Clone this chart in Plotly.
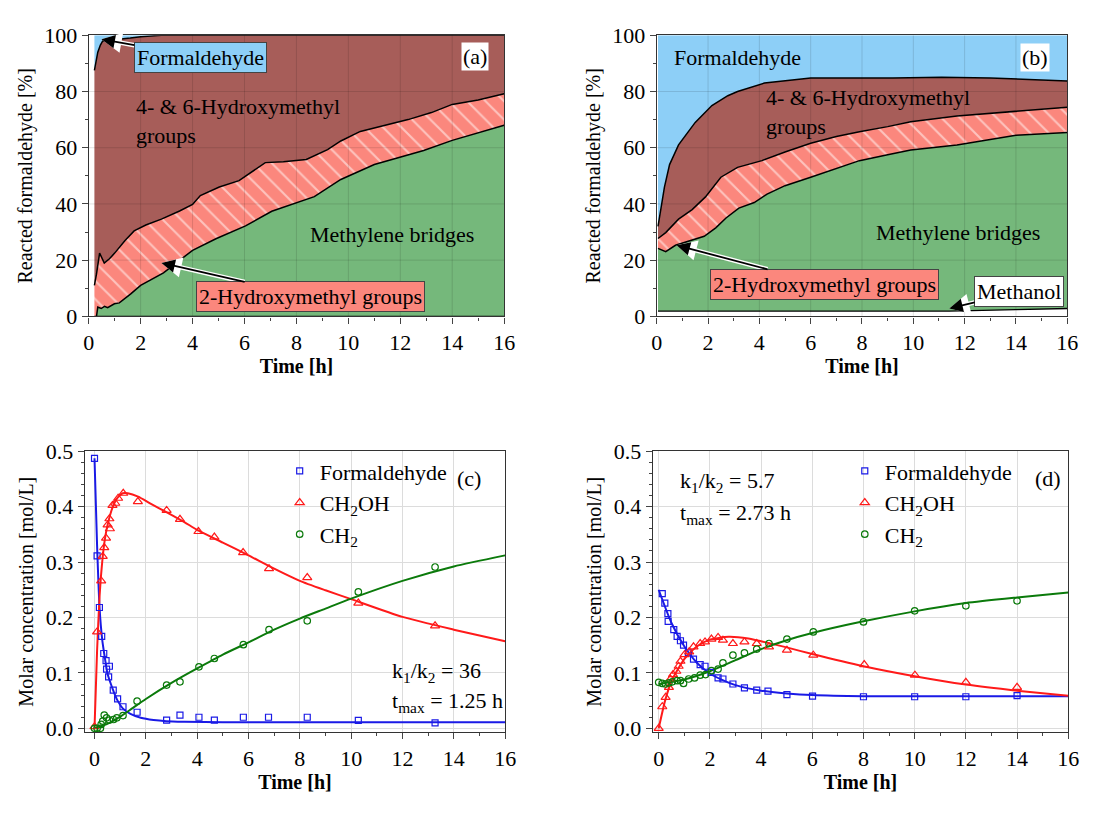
import plotly.graph_objects as go

# ---------------- Panel (a) data: cumulative boundaries [%] ----------------
a_green_t = [0.22, 0.3, 0.35, 0.48, 0.61, 0.73, 0.99, 1.18, 1.62, 2.0, 2.88, 4.0, 4.9, 6.04, 7.05, 7.94, 8.69, 9.71, 11.0, 12.9, 14.0, 16.0]
a_green_v = [0.0, 0.0, 3.3, 2.8, 3.6, 3.1, 4.5, 4.8, 8.0, 11.0, 15.5, 23.5, 27.6, 32.2, 37.4, 40.2, 42.6, 48.7, 54.0, 59.0, 62.6, 68.0]
a_pink_t = [0.22, 0.3, 0.42, 0.5, 0.6, 0.8, 1.0, 1.4, 1.75, 2.2, 2.8, 3.5, 4.0, 4.3, 5.03, 5.79, 6.8, 7.5, 8.38, 9.2, 9.71, 10.46, 11.5, 12.3, 13.2, 14.0, 15.0, 16.0]
a_pink_v = [11.0, 15.0, 22.5, 21.0, 19.0, 20.5, 22.5, 27.0, 30.4, 32.5, 34.6, 37.5, 39.8, 43.0, 46.0, 48.3, 54.7, 55.0, 55.8, 59.3, 62.4, 65.8, 68.3, 70.0, 72.5, 75.4, 77.0, 79.2]
a_brown_t = [0.22, 0.28, 0.35, 0.45, 0.54, 0.8, 1.25, 1.6, 2.0, 2.8, 16.0]
a_brown_v = [87.5, 91.0, 94.0, 96.5, 98.0, 98.2, 98.8, 99.0, 99.5, 100.0, 100.0]

# ---------------- Panel (b) data ----------------
b_meth_t = [0.05, 6.0, 11.4, 14.0, 16.0]
b_meth_v = [1.9, 1.9, 1.9, 2.4, 2.8]
b_green_t = [0.05, 0.35, 0.73, 1.1, 1.5, 1.85, 2.3, 2.7, 3.2, 3.8, 4.3, 5.0, 6.0, 7.0, 7.9, 9.0, 9.9, 11.7, 14.0, 16.0]
b_green_v = [24.2, 23.0, 25.3, 26.3, 27.5, 28.5, 31.5, 35.0, 38.5, 40.5, 43.5, 46.5, 49.5, 52.5, 55.4, 57.5, 59.2, 61.0, 64.4, 65.4]
b_pink_t = [0.05, 0.35, 0.85, 1.38, 1.9, 2.5, 3.15, 4.1, 5.0, 6.0, 7.0, 7.9, 9.0, 9.9, 11.7, 14.0, 16.0]
b_pink_v = [27.7, 29.8, 34.6, 38.0, 42.5, 49.5, 53.0, 55.4, 58.5, 61.6, 64.0, 65.7, 67.5, 69.2, 71.3, 73.0, 74.4]
b_brown_t = [0.05, 0.15, 0.3, 0.5, 0.85, 1.5, 2.15, 2.77, 3.15, 4.2, 6.0, 8.0, 9.2, 11.1, 13.0, 16.0]
b_brown_v = [32.0, 38.0, 46.0, 54.0, 61.0, 69.0, 75.0, 78.5, 80.0, 83.0, 84.8, 84.8, 84.8, 85.1, 84.8, 83.7]

# ---------------- Panel (c) data [mol/L] ----------------
c_form_t = [0, 0.1, 0.19, 0.28, 0.36, 0.45, 0.47, 0.55, 0.58, 0.73, 0.9, 1.11, 1.66, 2.81, 3.33, 4.07, 4.67, 5.8, 6.78, 8.29, 10.28, 13.27]
c_form_v = [0.487, 0.311, 0.218, 0.166, 0.135, 0.122, 0.107, 0.093, 0.112, 0.069, 0.053, 0.039, 0.029, 0.015, 0.024, 0.020, 0.015, 0.020, 0.020, 0.020, 0.0145, 0.010]
c_ch2oh_t = [0, 0.1, 0.26, 0.32, 0.38, 0.45, 0.51, 0.58, 0.6, 0.70, 0.81, 0.92, 1.12, 1.69, 2.81, 3.33, 4.05, 4.67, 5.79, 6.8, 8.29, 10.28, 13.27]
c_ch2oh_v = [0.003, 0.174, 0.266, 0.310, 0.326, 0.343, 0.367, 0.378, 0.360, 0.402, 0.406, 0.415, 0.424, 0.409, 0.393, 0.377, 0.355, 0.345, 0.317, 0.288, 0.272, 0.226, 0.185]
c_ch2_t = [0, 0.1, 0.23, 0.26, 0.32, 0.38, 0.47, 0.58, 0.74, 0.87, 1.11, 1.66, 2.81, 3.33, 4.07, 4.67, 5.8, 6.8, 8.29, 10.28, 13.27]
c_ch2_v = [0.0, 0.0, 0.0, 0.007, 0.013, 0.024, 0.019, 0.015, 0.016, 0.019, 0.023, 0.049, 0.078, 0.084, 0.111, 0.126, 0.151, 0.178, 0.194, 0.246, 0.291]
c_fit_form_t = [0, 0.1, 0.2, 0.3, 0.4, 0.5, 0.6, 0.75, 0.9, 1.1, 1.4, 1.8, 2.3, 2.8, 3.5, 5, 8, 16]
c_fit_form_v = [0.487, 0.33, 0.215, 0.16, 0.128, 0.10, 0.085, 0.066, 0.050, 0.036, 0.026, 0.019, 0.015, 0.013, 0.012, 0.011, 0.011, 0.011]
c_fit_ch2oh_t = [0, 0.1, 0.2, 0.3, 0.4, 0.5, 0.7, 0.9, 1.1, 1.3, 1.7, 2.2, 2.8, 3.5, 4.0, 5.0, 6.0, 7.0, 8.0, 9.0, 10.0, 12.0, 14.0, 16.0]
c_fit_ch2oh_v = [0, 0.14, 0.24, 0.30, 0.34, 0.365, 0.398, 0.416, 0.424, 0.424, 0.418, 0.405, 0.390, 0.372, 0.358, 0.335, 0.312, 0.288, 0.266, 0.249, 0.233, 0.201, 0.178, 0.157]
c_fit_ch2_t = [0, 0.5, 1, 1.5, 2, 3, 4, 5, 6, 7, 8, 9, 10, 12, 14, 16]
c_fit_ch2_v = [0, 0.008, 0.021, 0.037, 0.053, 0.082, 0.108, 0.133, 0.155, 0.178, 0.198, 0.216, 0.234, 0.266, 0.292, 0.312]

# ---------------- Panel (d) data [mol/L] ----------------
d_form_t = [0.14, 0.24, 0.36, 0.37, 0.59, 0.72, 0.85, 0.97, 1.16, 1.36, 1.62, 1.81, 2.04, 2.32, 2.51, 2.9, 3.35, 3.83, 4.27, 5.01, 6.01, 8.0, 10.0, 12.0, 14.0]
d_form_v = [0.243, 0.226, 0.207, 0.193, 0.178, 0.166, 0.158, 0.150, 0.136, 0.125, 0.115, 0.112, 0.101, 0.091, 0.089, 0.080, 0.073, 0.069, 0.067, 0.061, 0.058, 0.057, 0.057, 0.057, 0.059]
d_ch2oh_t = [0, 0.14, 0.27, 0.4, 0.46, 0.56, 0.69, 0.78, 0.85, 1.01, 1.19, 1.36, 1.62, 1.81, 2.06, 2.32, 2.51, 2.9, 3.35, 3.83, 4.31, 5.01, 6.04, 8.03, 10.01, 12.0, 14.0]
d_ch2oh_v = [0.0, 0.039, 0.056, 0.074, 0.089, 0.097, 0.103, 0.112, 0.121, 0.133, 0.138, 0.147, 0.153, 0.156, 0.161, 0.164, 0.159, 0.153, 0.156, 0.153, 0.147, 0.141, 0.132, 0.115, 0.096, 0.083, 0.074]
d_ch2_t = [0, 0.14, 0.27, 0.4, 0.53, 0.72, 0.85, 0.97, 1.17, 1.4, 1.62, 1.83, 2.06, 2.32, 2.51, 2.9, 3.35, 3.83, 4.31, 5.01, 6.04, 8.0, 10.0, 12.0, 14.0]
d_ch2_v = [0.083, 0.081, 0.080, 0.082, 0.084, 0.086, 0.086, 0.081, 0.089, 0.091, 0.096, 0.097, 0.104, 0.107, 0.118, 0.132, 0.136, 0.143, 0.153, 0.161, 0.174, 0.192, 0.212, 0.221, 0.230]
d_fit_form_t = [0, 0.5, 1, 1.5, 2, 2.5, 3, 4, 5, 6, 8, 10, 12, 14, 16]
d_fit_form_v = [0.250, 0.190, 0.148, 0.118, 0.099, 0.087, 0.078, 0.068, 0.063, 0.060, 0.058, 0.058, 0.058, 0.058, 0.058]
d_fit_ch2oh_t = [0, 0.25, 0.5, 1, 1.5, 2, 2.73, 3.5, 4, 5, 6, 8, 10, 12, 14, 16]
d_fit_ch2oh_v = [0, 0.05, 0.085, 0.125, 0.148, 0.160, 0.165, 0.162, 0.157, 0.146, 0.134, 0.112, 0.094, 0.079, 0.068, 0.059]
d_fit_ch2_t = [0, 1, 2, 3, 4, 5, 6, 8, 10, 12, 14, 16]
d_fit_ch2_v = [0.080, 0.088, 0.103, 0.123, 0.143, 0.159, 0.172, 0.193, 0.211, 0.226, 0.236, 0.245]

x_ticks = [0, 2, 4, 6, 8, 10, 12, 14, 16]
pct_ticks = [0, 20, 40, 60, 80, 100]
conc_ticks = [0.0, 0.1, 0.2, 0.3, 0.4, 0.5]

# ---------------- style ----------------
FONT = "Liberation Serif, Times New Roman, serif"
C_BLUE_AREA = "#8dcff7"
C_BROWN = "#a75d59"
C_PINK = "#fb877d"
C_GREEN = "#75b87b"
C_F = "#1a1ae6"
C_R = "#ff1a1a"
C_G = "#0b7a0b"

fig = go.Figure()

def area_panel(xa, ya, base_t, base_v, green_t, green_v, pink_t, pink_v, brown_t, brown_v):
    fig.add_trace(go.Scatter(x=base_t, y=base_v, mode="lines", line=dict(color="black", width=1.3),
                             fill="tozeroy", fillcolor="white", xaxis=xa, yaxis=ya, showlegend=False, hoverinfo="skip"))
    fig.add_trace(go.Scatter(x=green_t, y=green_v, mode="lines", line=dict(color="black", width=1.5),
                             fill="tonexty", fillcolor=C_GREEN, xaxis=xa, yaxis=ya, showlegend=False, hoverinfo="skip"))
    fig.add_trace(go.Scatter(x=pink_t, y=pink_v, mode="lines", line=dict(color="black", width=1.5),
                             fill="tonexty", fillcolor=C_PINK,
                             fillpattern=dict(shape="\\", fgcolor="white", bgcolor=C_PINK, size=13, solidity=0.16),
                             xaxis=xa, yaxis=ya, showlegend=False, hoverinfo="skip"))
    fig.add_trace(go.Scatter(x=brown_t, y=brown_v, mode="lines", line=dict(color="black", width=1.5),
                             fill="tonexty", fillcolor=C_BROWN, xaxis=xa, yaxis=ya, showlegend=False, hoverinfo="skip"))
    fig.add_trace(go.Scatter(x=[brown_t[0], 16], y=[100, 100], mode="lines", line=dict(color="rgba(0,0,0,0)", width=0),
                             fill="tonexty", fillcolor=C_BLUE_AREA, xaxis=xa, yaxis=ya, showlegend=False, hoverinfo="skip"))

area_panel("x", "y", [a_green_t[0], 16], [0, 0], a_green_t, a_green_v, a_pink_t, a_pink_v, a_brown_t, a_brown_v)
area_panel("x2", "y2", b_meth_t, b_meth_v, b_green_t, b_green_v, b_pink_t, b_pink_v, b_brown_t, b_brown_v)

def conc_panel(xa, ya, leg, data):
    (ft, fv, rt, rv, gt, gv, fft, ffv, frt, frv, fgt, fgv) = data
    fig.add_trace(go.Scatter(x=fft, y=ffv, mode="lines", line=dict(color=C_F, width=2, shape="spline", smoothing=0.6),
                             xaxis=xa, yaxis=ya, showlegend=False))
    fig.add_trace(go.Scatter(x=frt, y=frv, mode="lines", line=dict(color=C_R, width=2, shape="spline", smoothing=0.6),
                             xaxis=xa, yaxis=ya, showlegend=False))
    fig.add_trace(go.Scatter(x=fgt, y=fgv, mode="lines", line=dict(color=C_G, width=2, shape="spline", smoothing=0.6),
                             xaxis=xa, yaxis=ya, showlegend=False))
    fig.add_trace(go.Scatter(x=ft, y=fv, mode="markers", name="Formaldehyde", legend=leg,
                             marker=dict(symbol="square-open", size=6, color=C_F, line=dict(width=1.2)),
                             xaxis=xa, yaxis=ya))
    fig.add_trace(go.Scatter(x=rt, y=rv, mode="markers", name="CH<sub>2</sub>OH", legend=leg,
                             marker=dict(symbol="triangle-up-open", size=8, color=C_R, line=dict(width=1.2)),
                             xaxis=xa, yaxis=ya))
    fig.add_trace(go.Scatter(x=gt, y=gv, mode="markers", name="CH<sub>2</sub>", legend=leg,
                             marker=dict(symbol="circle-open", size=6.5, color=C_G, line=dict(width=1.2)),
                             xaxis=xa, yaxis=ya))

conc_panel("x3", "y3", "legend", (c_form_t, c_form_v, c_ch2oh_t, c_ch2oh_v, c_ch2_t, c_ch2_v,
                                   c_fit_form_t, c_fit_form_v, c_fit_ch2oh_t, c_fit_ch2oh_v, c_fit_ch2_t, c_fit_ch2_v))
conc_panel("x4", "y4", "legend2", (d_form_t, d_form_v, d_ch2oh_t, d_ch2oh_v, d_ch2_t, d_ch2_v,
                                    d_fit_form_t, d_fit_form_v, d_fit_ch2oh_t, d_fit_ch2oh_v, d_fit_ch2_t, d_fit_ch2_v))

W, H = 1095, 816
def px_dom_x(a, b):
    return [a / W, b / W]
def px_dom_y(top, bottom):
    return [1 - bottom / H, 1 - top / H]

tickfont = dict(family=FONT, size=22, color="black")
titlefont = dict(family=FONT, size=20, color="black")

def xaxis_cfg(dom, rng, anchor, gridshow, gridcolor):
    return dict(domain=dom, range=rng, anchor=anchor, tickvals=x_ticks, ticks="outside", ticklen=6, tickwidth=1.2,
                minor=dict(ticks="outside", ticklen=3, dtick=1, tick0=0, showgrid=False),
                showline=True, linecolor="#333", linewidth=1.3, mirror=True, tickfont=tickfont,
                showgrid=gridshow, gridcolor=gridcolor, zeroline=False,
                title=dict(text="<b>Time [h]</b>", font=titlefont, standoff=4))

def yaxis_cfg(dom, rng, anchor, ticks, fmt, minor_dtick, title, gridshow, gridcolor):
    return dict(domain=dom, range=rng, anchor=anchor, tickvals=ticks, tickformat=fmt, ticks="outside", ticklen=6, tickwidth=1.2,
                minor=dict(ticks="outside", ticklen=3, dtick=minor_dtick, tick0=0, showgrid=False),
                showline=True, linecolor="#333", linewidth=1.3, mirror=True, tickfont=tickfont,
                showgrid=gridshow, gridcolor=gridcolor, zeroline=False,
                title=dict(text=title, font=titlefont, standoff=6))

legfont = dict(family=FONT, size=22, color="black")
fig.update_layout(
    width=W, height=H, margin=dict(l=0, r=0, t=0, b=0),
    paper_bgcolor="white", plot_bgcolor="white",
    font=dict(family=FONT, color="black"),
    xaxis=xaxis_cfg(px_dom_x(84, 506), [0, 16], "y", False, None),
    yaxis=yaxis_cfg(px_dom_y(24, 314), [0, 100], "x", pct_ticks, "d", 10, "Reacted formaldehyde [%]", False, None),
    xaxis2=xaxis_cfg(px_dom_x(661, 1078), [0, 16], "y2", False, None),
    yaxis2=yaxis_cfg(px_dom_y(24, 314), [0, 100], "x2", pct_ticks, "d", 10, "Reacted formaldehyde [%]", False, None),
    xaxis3=xaxis_cfg(px_dom_x(80, 507), [-0.38, 16], "y3", True, "#dcdcdc"),
    yaxis3=yaxis_cfg(px_dom_y(453, 743), [-0.007, 0.5], "x3", conc_ticks, ".1f", 0.02, "Molar concentration [mol/L]", True, "#dcdcdc"),
    xaxis4=xaxis_cfg(px_dom_x(657, 1079), [-0.23, 16], "y4", True, "#dcdcdc"),
    yaxis4=yaxis_cfg(px_dom_y(453, 743), [-0.007, 0.5], "x4", conc_ticks, ".1f", 0.02, "Molar concentration [mol/L]", True, "#dcdcdc"),
    legend=dict(x=278 / W, y=1 - 452 / H, xanchor="left", yanchor="top", bgcolor="rgba(0,0,0,0)",
                font=legfont, tracegroupgap=0, traceorder="normal"),
    legend2=dict(x=852 / W, y=1 - 452 / H, xanchor="left", yanchor="top", bgcolor="rgba(0,0,0,0)",
                 font=legfont, tracegroupgap=0, traceorder="normal"),
)

# Faint grid lines drawn over the filled areas in (a) and (b)
shapes = []
for xa, ya in (("x", "y"), ("x2", "y2")):
    for t in x_ticks[1:-1]:
        shapes.append(dict(type="line", xref=xa, yref=ya, x0=t, x1=t, y0=0, y1=100, layer="above",
                           line=dict(color="rgba(0,0,0,0.12)", width=1)))
    for v in pct_ticks[1:-1]:
        shapes.append(dict(type="line", xref=xa, yref=ya, x0=0, x1=16, y0=v, y1=v, layer="above",
                           line=dict(color="rgba(0,0,0,0.12)", width=1)))
fig.update_layout(shapes=shapes)

ann = []
def boxed_arrow(xa, ya, x, y, text, ax, ay, bg, size=22):
    ann.append(dict(xref=xa, yref=ya, x=x, y=y, text=text, ax=ax, ay=ay, showarrow=True,
                    font=dict(family=FONT, size=size, color="rgba(0,0,0,0)"), bgcolor="rgba(0,0,0,0)",
                    bordercolor="rgba(0,0,0,0)", borderwidth=1, borderpad=2,
                    arrowcolor="white", arrowwidth=4.5, arrowhead=2, arrowsize=0.9))
    ann.append(dict(xref=xa, yref=ya, x=x, y=y, text=text, ax=ax, ay=ay, showarrow=True,
                    font=dict(family=FONT, size=size, color="black"), bgcolor=bg,
                    bordercolor="#444", borderwidth=1, borderpad=2,
                    arrowcolor="black", arrowwidth=1.8, arrowhead=2, arrowsize=1.5))

def label(xa, ya, x, y, text, xanchor="center", size=22, bg=None):
    d = dict(xref=xa, yref=ya, x=x, y=y, text=text, showarrow=False, xanchor=xanchor, yanchor="middle", align="left",
             font=dict(family=FONT, size=size, color="black"))
    if bg:
        d.update(bgcolor=bg, borderpad=1)
    ann.append(d)

# (a)
boxed_arrow("x", "y", 0.49, 98.6, "Formaldehyde", 99, 18, C_BLUE_AREA)
boxed_arrow("x", "y", 2.8, 19.0, "2-Hydroxymethyl groups", 149, 34, C_PINK)
label("x", "y", 1.74, 69.5, "4- &amp; 6-Hydroxymethyl<br>groups", xanchor="left")
label("x", "y", 14.86, 92.4, "(a)", bg="white")
label("x", "y", 11.68, 29.0, "Methylene bridges")
# (b)
boxed_arrow("x2", "y2", 0.77, 25.3, "2-Hydroxymethyl groups", 148, 39, C_PINK)
boxed_arrow("x2", "y2", 11.4, 2.8, "Methanol", 70, -17, "white")
label("x2", "y2", 0.58, 92.0, "Formaldehyde", xanchor="left")
label("x2", "y2", 4.18, 72.7, "4- &amp; 6-Hydroxymethyl<br>groups", xanchor="left")
label("x2", "y2", 14.74, 92.0, "(b)", bg="white")
label("x2", "y2", 11.74, 30.0, "Methylene bridges")
# (c)
label("x3", "y3", 14.58, 0.451, "(c)")
label("x3", "y3", 11.5, 0.101, "k<sub>1</sub>/k<sub>2</sub> = 36", xanchor="left")
label("x3", "y3", 11.5, 0.047, "t<sub>max</sub> = 1.25 h", xanchor="left")
# (d)
label("x4", "y4", 15.19, 0.451, "(d)")
label("x4", "y4", 0.77, 0.444, "k<sub>1</sub>/k<sub>2</sub> = 5.7", xanchor="left")
label("x4", "y4", 0.77, 0.386, "t<sub>max</sub> = 2.73 h", xanchor="left")

fig.update_layout(annotations=ann)

fig.write_html("out.html")
